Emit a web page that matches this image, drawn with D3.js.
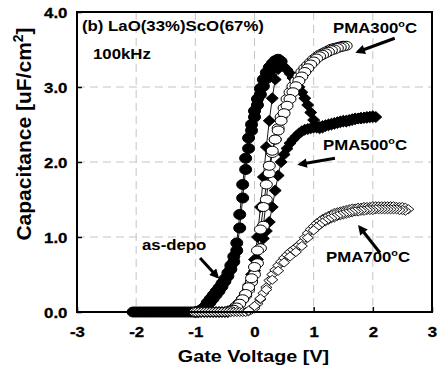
<!DOCTYPE html>
<html>
<head>
<meta charset="utf-8">
<script src="https://cdn.jsdelivr.net/npm/d3@7"></script>
<style>
  body { margin: 0; background: #fff; }
  text { font-family: "Liberation Sans", Arial, sans-serif; font-weight: bold; }
</style>
</head>
<body>
<div id="chart"></div>
<script>
// C-V sweeps, [gate voltage V, capacitance uF/cm2]
var asDepoFwd = [[-2.05,0],[-2.0,0],[-1.95,0],[-1.9,0],[-1.85,0],[-1.8,0],[-1.75,0],[-1.7,0],[-1.65,0],[-1.6,0],[-1.55,0],[-1.5,0],[-1.45,0],[-1.4,0],[-1.35,0],[-1.3,0],[-1.25,0],[-1.2,0],[-1.15,0],[-1.1,0],[-1.05,0],[-1.0,0],[-0.95,0.01],
  [-0.9,0.03],[-0.85,0.06],[-0.8,0.12],[-0.75,0.17],[-0.7,0.22],[-0.65,0.27],[-0.6,0.32],[-0.55,0.38],[-0.5,0.44],[-0.45,0.52],[-0.4,0.62],[-0.35,0.74],[-0.3,0.92],[-0.25,1.3],[-0.2,1.7],[-0.15,2.05],[-0.1,2.32],[-0.05,2.5],[0.0,2.68],[0.05,2.84],[0.1,2.98],[0.15,3.1],[0.2,3.19],[0.25,3.26],[0.3,3.31],[0.35,3.35],[0.4,3.37],[0.45,3.34]];
var asDepoRev = [[0.4,3.33],[0.35,3.3],[0.3,3.25],[0.25,3.19],[0.2,3.11],[0.15,3.01],[0.1,2.9],[0.05,2.76],[0.0,2.6],[-0.05,2.42],[-0.1,2.18],[-0.15,1.9],[-0.2,1.52],[-0.25,1.12],[-0.3,0.82],[-0.35,0.67],[-0.4,0.57],[-0.45,0.48],[-0.5,0.41],[-0.55,0.34],[-0.6,0.28],[-0.65,0.23],[-0.7,0.18],[-0.75,0.13],[-0.8,0.09],[-0.85,0.05],[-0.9,0.02],[-0.95,0],[-1.0,0]];

var pma300Fwd = [[-1.0,0],[-0.95,0],[-0.9,0],[-0.85,0],[-0.8,0],[-0.75,0],[-0.7,0],[-0.65,0],[-0.6,0],[-0.55,0],[-0.5,0],[-0.45,0.01],[-0.4,0.02],
  [-0.35,0.04],[-0.3,0.08],[-0.25,0.12],[-0.2,0.17],[-0.15,0.22],[-0.1,0.3],[-0.05,0.4],[0.0,0.5],[0.05,0.65],[0.1,0.85],[0.15,1.15],[0.2,1.5],[0.25,1.85],[0.3,2.12],[0.35,2.3],[0.4,2.45],[0.45,2.6],[0.5,2.72],[0.55,2.84],[0.6,2.93],[0.65,3.01],[0.7,3.08],[0.75,3.14],[0.8,3.2],[0.85,3.25],[0.9,3.29],[0.95,3.33],[1.0,3.37],[1.05,3.4],[1.1,3.43],[1.15,3.45],[1.2,3.47],[1.25,3.49],[1.3,3.51],[1.35,3.52],[1.4,3.53],[1.45,3.54],[1.5,3.55],[1.55,3.55]];
var pma300Rev = [[1.5,3.54],[1.45,3.53],[1.4,3.52],[1.35,3.5],[1.3,3.49],[1.25,3.47],[1.2,3.45],[1.15,3.43],[1.1,3.41],[1.05,3.38],[1.0,3.34],[0.95,3.3],[0.9,3.25],[0.85,3.2],[0.8,3.14],[0.75,3.08],[0.7,3.01],[0.65,2.93],[0.6,2.84],[0.55,2.75],[0.5,2.65],[0.45,2.55],[0.4,2.42],[0.35,2.3],[0.3,2.15],[0.25,1.95],[0.2,1.7],[0.15,1.4],[0.1,1.1],[0.05,0.82],[0.0,0.6],[-0.05,0.45],[-0.1,0.33],[-0.15,0.24],[-0.2,0.17],[-0.25,0.11],[-0.3,0.06],[-0.35,0.03],[-0.4,0.01]];

var pma500Fwd = [[-1.0,0],[-0.95,0],[-0.9,0],[-0.85,0],[-0.8,0],[-0.75,0],[-0.7,0],[-0.65,0],[-0.6,0],[-0.55,0],[-0.5,0],[-0.45,0.01],
  [-0.4,0.03],[-0.35,0.06],[-0.3,0.1],[-0.25,0.14],[-0.2,0.19],[-0.15,0.25],[-0.1,0.32],[-0.05,0.42],[0.0,0.55],[0.05,0.7],[0.1,0.85],[0.15,0.98],[0.2,1.08],[0.25,1.2],[0.3,1.4],[0.35,1.62],[0.4,1.82],[0.45,2.0],[0.5,2.1],[0.55,2.18],[0.6,2.25],[0.65,2.3],[0.7,2.34],[0.75,2.38],[0.8,2.41],[0.85,2.43],[0.9,2.44],[0.95,2.45],[1.0,2.46],[1.05,2.46],[1.1,2.47],[1.15,2.48],[1.2,2.49],[1.25,2.5],[1.3,2.51],[1.35,2.52],[1.4,2.53],[1.45,2.54],[1.5,2.55],[1.55,2.55],[1.6,2.56],[1.65,2.57],[1.7,2.58],[1.75,2.58],[1.8,2.59],[1.85,2.59],[1.9,2.6],[1.95,2.6],[2.0,2.61],[2.05,2.6]];
var pma500Rev = [[2.0,2.6],[1.95,2.6],[1.9,2.59],[1.85,2.59],[1.8,2.58],[1.75,2.58],[1.7,2.57],[1.65,2.56],[1.6,2.55],[1.55,2.54],[1.5,2.54],[1.45,2.53],[1.4,2.52],[1.35,2.51],[1.3,2.5],[1.25,2.49],[1.2,2.48],[1.15,2.46],[1.1,2.45],[1.05,2.47],[1.0,2.56],[0.95,2.66],[0.9,2.76],[0.85,2.85],[0.8,2.93],[0.75,3.0],[0.7,3.06],[0.65,3.12],[0.6,3.18],[0.55,3.23],[0.5,3.27],[0.45,3.29],[0.4,3.24],[0.35,3.1],[0.3,2.85],[0.25,2.55],[0.2,2.2],[0.15,1.8],[0.1,1.4],[0.05,1.0],[0.0,0.7],[-0.05,0.5],[-0.1,0.36],[-0.15,0.26],[-0.2,0.19],[-0.25,0.13],[-0.3,0.08],[-0.35,0.05],[-0.4,0.02],[-0.45,0]];

var pma700Fwd = [[-1.0,0],[-0.95,0],[-0.9,0],[-0.85,0],[-0.8,0],[-0.75,0],[-0.7,0],[-0.65,0],[-0.6,0],[-0.55,0],[-0.5,0],[-0.45,0],[-0.4,0],[-0.35,0],[-0.3,0],[-0.25,0],[-0.2,0],[-0.15,0],[-0.1,0.01],[-0.05,0.03],
  [0.0,0.05],[0.05,0.11],[0.1,0.17],[0.15,0.25],[0.2,0.33],[0.25,0.42],[0.3,0.5],[0.35,0.56],[0.4,0.62],[0.45,0.67],[0.5,0.72],[0.55,0.76],[0.6,0.8],[0.65,0.83],[0.7,0.86],[0.75,0.89],[0.8,0.93],[0.85,0.99],[0.9,1.05],[0.95,1.1],[1.0,1.14],[1.05,1.18],[1.1,1.21],[1.15,1.24],[1.2,1.26],[1.25,1.28],[1.3,1.3],[1.35,1.32],[1.4,1.33],[1.45,1.34],[1.5,1.35],[1.55,1.36],[1.6,1.37],[1.65,1.38],[1.7,1.38],[1.75,1.39],[1.8,1.39],[1.85,1.4],[1.9,1.4],[1.95,1.4],[2.0,1.41],[2.05,1.41],[2.1,1.41],[2.15,1.41],[2.2,1.41],[2.25,1.41],[2.3,1.41],[2.35,1.41],[2.4,1.4],[2.45,1.4],[2.5,1.4],[2.55,1.39],[2.6,1.37]];
var pma700Rev = [[2.55,1.35],[2.5,1.36],[2.45,1.36],[2.4,1.37],[2.35,1.37],[2.3,1.37],[2.25,1.37],[2.2,1.37],[2.15,1.37],[2.1,1.37],[2.05,1.37],[2.0,1.36],[1.95,1.36],[1.9,1.36],[1.85,1.35],[1.8,1.35],[1.75,1.34],[1.7,1.34],[1.65,1.33],[1.6,1.32],[1.55,1.31],[1.5,1.3],[1.45,1.29],[1.4,1.28],[1.35,1.26],[1.3,1.25],[1.25,1.23],[1.2,1.21],[1.15,1.19],[1.1,1.16],[1.05,1.13],[1.0,1.09],[0.9,0.99],[0.8,0.88],[0.7,0.8],[0.6,0.74],[0.5,0.66],[0.4,0.55],[0.3,0.43],[0.2,0.3],[0.1,0.18],[0.0,0.08],[-0.1,0.02]];

var xTicks = [-3, -2, -1, 0, 1, 2, 3];
var yTicks = [0, 1, 2, 3, 4];

var margin = {top: 12, right: 7, bottom: 57, left: 77};
var width = 439 - margin.left - margin.right,
    height = 369 - margin.top - margin.bottom;

var svg = d3.select("#chart").append("svg")
    .attr("width", 439)
    .attr("height", 369);

var g = svg.append("g")
    .attr("transform", "translate(" + margin.left + "," + margin.top + ")");

var x = d3.scaleLinear().domain([-3, 3]).range([0, width]);
var y = d3.scaleLinear().domain([0, 4]).range([height, 0]);

var sx = 1.2; // glyphs in the figure are a bit wider than tall

// dashed grid
g.selectAll(".vgrid").data(xTicks.slice(1, -1)).enter().append("line")
    .attr("x1", d => x(d)).attr("x2", d => x(d))
    .attr("y1", 0).attr("y2", height)
    .attr("stroke", "#c4c4c4").attr("stroke-dasharray", "8,5");
g.selectAll(".hgrid").data(yTicks.slice(1, -1)).enter().append("line")
    .attr("x1", 0).attr("x2", width)
    .attr("y1", d => y(d)).attr("y2", d => y(d))
    .attr("stroke", "#c4c4c4").attr("stroke-dasharray", "8,5");

// axes
var xAxis = d3.axisBottom(x).tickValues(xTicks).tickSize(-5).tickSizeOuter(0)
    .tickPadding(15).tickFormat(d => String(d));
var yAxis = d3.axisLeft(y).tickValues(yTicks).tickSize(-5).tickSizeOuter(0)
    .tickPadding(8).tickFormat(d3.format(".1f"));

var gx = g.append("g").attr("transform", "translate(0," + height + ")").call(xAxis);
var gy = g.append("g").call(yAxis);
[gx, gy].forEach(function(a) {
  a.attr("font-family", null).attr("font-size", null);
  a.select(".domain").remove();
  a.selectAll(".tick line").attr("stroke", "#000").attr("stroke-width", 1.5);
  a.selectAll(".tick text")
      .attr("style", "font: bold 14px 'Liberation Sans', Arial, sans-serif")
      .attr("fill", "#000").attr("stroke", "#000").attr("stroke-width", 0.3);
});
gx.selectAll(".tick text").attr("transform", "scale(" + sx + ",1)");
gy.selectAll(".tick text").attr("transform", "scale(" + sx + ",1)").attr("dy", "0.36em");

// series
function drawLine(pts) {
  var line = d3.line().x(d => x(d[0])).y(d => y(d[1]));
  g.append("path").datum(pts).attr("d", line)
      .attr("fill", "none").attr("stroke", "#000").attr("stroke-width", 0.9);
}
function ellipses(pts, rx, ry, fill) {
  g.append("g").selectAll("ellipse").data(pts).enter().append("ellipse")
      .attr("cx", d => x(d[0])).attr("cy", d => y(d[1]))
      .attr("rx", rx).attr("ry", ry)
      .attr("fill", fill).attr("stroke", "#000").attr("stroke-width", 1);
}
function diamonds(pts, hw, hh, fill) {
  g.append("g").selectAll("path").data(pts).enter().append("path")
      .attr("d", d => {
        var cx = x(d[0]), cy = y(d[1]);
        return "M" + (cx - hw) + "," + cy + "L" + cx + "," + (cy - hh) + "L" + (cx + hw) + "," + cy + "L" + cx + "," + (cy + hh) + "Z";
      })
      .attr("fill", fill).attr("stroke", "#000").attr("stroke-width", 0.9);
}

var pma500 = pma500Fwd.concat(pma500Rev);
drawLine(pma500);
diamonds(pma500, 6, 5.5, "#000");

var asDepo = asDepoFwd.concat(asDepoRev);
drawLine(asDepo);
ellipses(asDepo, 6, 5, "#000");

var pma300 = pma300Fwd.concat(pma300Rev);
drawLine(pma300);
ellipses(pma300, 6, 4.5, "#fff");

var pma700 = pma700Fwd.concat(pma700Rev);
drawLine(pma700);
diamonds(pma700, 5.5, 4.5, "#fff");

// frame
g.append("rect").attr("width", width).attr("height", height)
    .attr("fill", "none").attr("stroke", "#000").attr("stroke-width", 2);

// axis titles
svg.append("text")
    .attr("transform", "translate(" + (margin.left + width / 2 - 1) + ",362) scale(" + sx + ",1)")
    .attr("text-anchor", "middle").attr("font-size", 16.5)
    .text("Gate Voltage [V]");

var yt = svg.append("text")
    .attr("transform", "translate(31,134) rotate(-90)")
    .attr("text-anchor", "middle").attr("font-size", 21);
yt.append("tspan").text("Capacitance [uF/cm");
yt.append("tspan").attr("font-size", 14).attr("dy", -8).text("2");
yt.append("tspan").attr("dy", 8).text("]");

// labels
function label(px, py, parts) {
  var t = svg.append("text")
      .attr("transform", "translate(" + px + "," + py + ") scale(" + sx + ",1)")
      .attr("font-size", 14);
  parts.forEach(function(p) {
    var s = t.append("tspan").text(p[0]);
    if (p[1]) s.attr("font-size", 9).attr("dy", -6);
    if (p[2]) s.attr("dy", 6);
  });
}
label(82, 31, [["(b) LaO(33%)ScO(67%)"]]);
label(93, 59, [["100kHz"]]);
label(333, 33, [["PMA300"], ["o", true], ["C", false, true]]);
label(323, 150, [["PMA500"], ["o", true], ["C", false, true]]);
label(326, 262, [["PMA700"], ["o", true], ["C", false, true]]);
label(142, 250, [["as-depo"]]);

// arrows, [from, to] in data units
var arrows = [
  [[2.37, 3.65], [1.75, 3.47]],
  [[1.36, 2.05], [0.77, 1.97]],
  [[2.12, 0.79], [1.78, 1.13]],
  [[-0.92, 0.72], [-0.63, 0.47]]
];
svg.append("defs").append("marker")
    .attr("id", "head").attr("viewBox", "0 0 10 10")
    .attr("refX", 7).attr("refY", 5)
    .attr("markerWidth", 3.6).attr("markerHeight", 3.2)
    .attr("orient", "auto")
  .append("path").attr("d", "M0,0L10,5L0,10Z").attr("fill", "#000");
g.selectAll(".arrow").data(arrows).enter().append("line")
    .attr("x1", d => x(d[0][0])).attr("y1", d => y(d[0][1]))
    .attr("x2", d => x(d[1][0])).attr("y2", d => y(d[1][1]))
    .attr("stroke", "#000").attr("stroke-width", 3)
    .attr("marker-end", "url(#head)");
</script>
</body>
</html>
